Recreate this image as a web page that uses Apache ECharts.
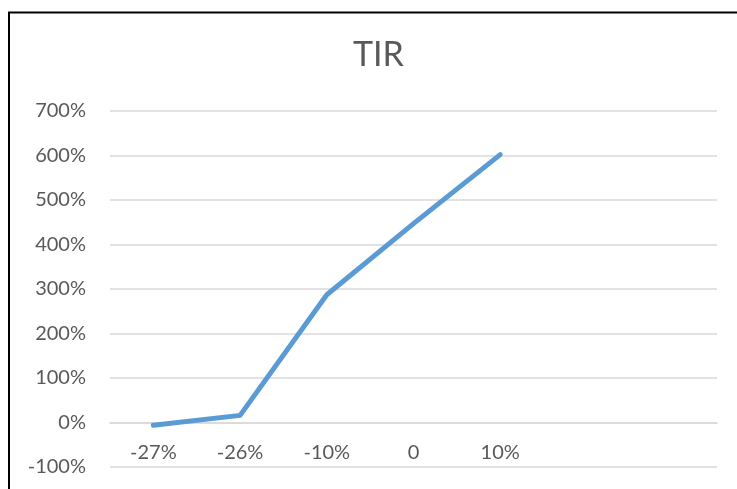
<!DOCTYPE html>
<html>
<head>
<meta charset="utf-8">
<script src="https://cdn.jsdelivr.net/npm/echarts@6/dist/echarts.min.js"></script>
<style>
  html, body { margin: 0; padding: 0; background: #fff; }
  #chart { width: 737px; height: 489px; }
</style>
</head>
<body>
<div id="chart"></div>
<script>
// Variation scenarios on the category axis
const categories = ['-27%', '-26%', '-10%', '0', '10%', '', ''];
// TIR (%) for each scenario
const tirValues = [-6, 16, 287, 447, 602];
// Value axis range and step (%)
const yMin = -100;
const yMax = 700;
const yStep = 100;

const textColor = '#595959';
const fontFamily = 'Lato, "Open Sans", sans-serif';

const W = 737, H = 489;
const grid = { left: 110, right: 20, top: 111, bottom: 22 };
// Category axis sits on the 0% line: lift it from the plot bottom by that distance
const plotHeight = H - grid.top - grid.bottom;
const zeroLift = plotHeight * (0 - yMin) / (yMax - yMin);

const chart = echarts.init(document.getElementById('chart'), null, { renderer: 'canvas' });
chart.setOption({
  animation: false,
  backgroundColor: '#fff',
  title: {
    text: 'TIR',
    left: 353,
    top: 38,
    padding: 0,
    textStyle: { color: textColor, fontFamily: fontFamily, fontSize: 34, fontWeight: 'normal' }
  },
  graphic: [{
    type: 'rect',
    silent: true,
    shape: { x: 9, y: 12.5, width: 900, height: 700 },
    style: { fill: 'none', stroke: '#000', lineWidth: 2 }
  }],
  grid: Object.assign({ containLabel: false, outerBoundsMode: 'none' }, grid),
  xAxis: {
    type: 'category',
    data: categories,
    boundaryGap: true,
    position: 'bottom',
    offset: -zeroLift,
    axisLine: { show: true, onZero: false, lineStyle: { color: '#d9d9d9', width: 1.5 } },
    axisTick: { show: false },
    axisLabel: { color: textColor, fontFamily: fontFamily, fontSize: 20, margin: 20 },
    splitLine: { show: false }
  },
  yAxis: {
    type: 'value',
    min: yMin,
    max: yMax,
    interval: yStep,
    axisLine: { show: false },
    axisTick: { show: false },
    axisLabel: { color: textColor, fontFamily: fontFamily, fontSize: 20, margin: 24, formatter: '{value}%' },
    splitLine: { lineStyle: { color: '#d9d9d9', width: 1.5 } }
  },
  series: [{
    name: 'TIR',
    type: 'line',
    data: tirValues,
    showSymbol: false,
    symbol: 'none',
    lineStyle: { color: '#5b9bd5', width: 5, cap: 'round', join: 'round' }
  }]
});
</script>
</body>
</html>
